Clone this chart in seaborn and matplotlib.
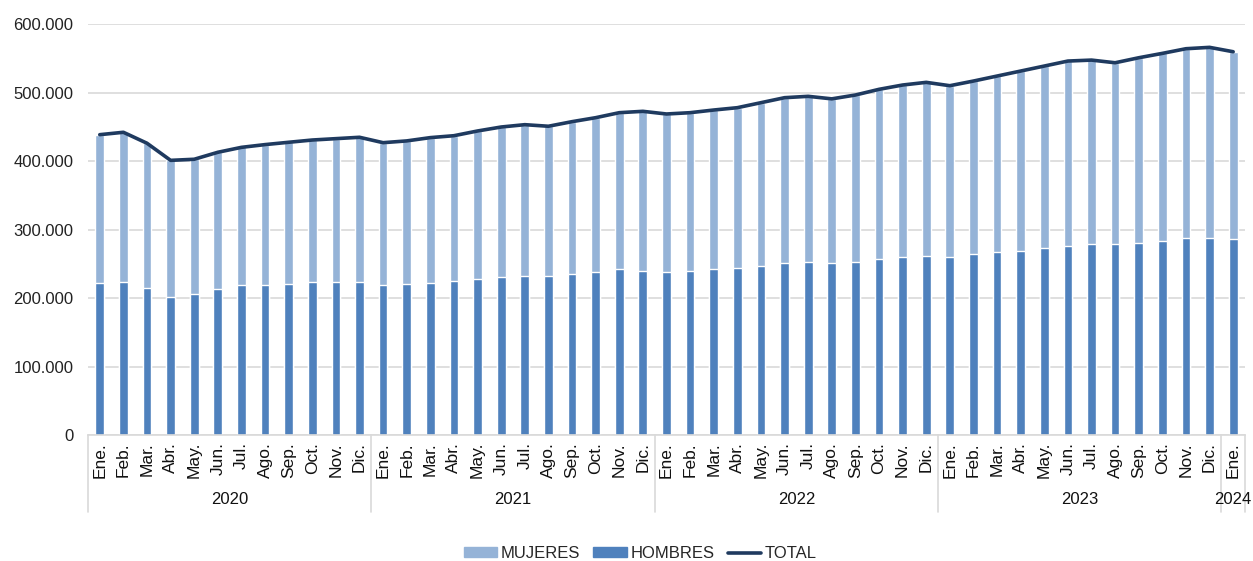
import matplotlib
matplotlib.use("Agg")
import matplotlib.pyplot as plt
from matplotlib.patches import Patch
from matplotlib.lines import Line2D
from matplotlib.ticker import FuncFormatter
import matplotlib.transforms as mtransforms
import numpy as np
import pandas as pd
import seaborn as sns

# data (Ene. 2020 - Ene. 2024)
meses = ["Ene.", "Feb.", "Mar.", "Abr.", "May.", "Jun.", "Jul.", "Ago.", "Sep.", "Oct.", "Nov.", "Dic."]
years = ["2020", "2021", "2022", "2023", "2024"]
month_labels = meses * 4 + ["Ene."]

hombres = [222200, 223600, 214900, 201800, 206200, 213400, 218300, 218300, 220700, 223600, 223600, 223600,
           218300, 220700, 222200, 225100, 228000, 230900, 232400, 232400, 234900, 238200, 242200, 239700,
           238200, 239700, 242200, 244100, 247000, 251400, 252800, 251400, 252800, 256700, 260100, 261600,
           260100, 264000, 267400, 268900, 273300, 276200, 278600, 278600, 280500, 283400, 287800, 287800,
           285900]
total = [438500, 442000, 426000, 401000, 402600, 412800, 420000, 424000, 427400, 430700, 432700, 434700,
         426800, 429400, 434200, 437000, 443900, 449700, 453100, 450800, 457500, 463300, 470600, 472600,
         468700, 470600, 474500, 477900, 485200, 492500, 494500, 490800, 496400, 504700, 511000, 514900,
         510000, 516800, 524100, 531400, 538700, 546000, 547400, 543500, 550800, 557200, 564000, 566000,
         559600]
mujeres = [t - h for t, h in zip(total, hombres)]

df = pd.DataFrame({"idx": np.arange(len(total)), "mes": month_labels,
                   "hombres": hombres, "mujeres": mujeres, "total": total})
df["stack"] = df["hombres"] + df["mujeres"]

c_muj = "#95B3D7"
c_hom = "#4F81BD"
c_tot = "#1F3A5F"

sns.set_style("white")
plt.rcParams["font.family"] = ["Liberation Sans", "DejaVu Sans"]

fig = plt.figure(figsize=(12.53, 5.61), dpi=100)
ax = fig.add_axes([0.0702, 0.2246, 0.9234, 0.7325])

# stacked bars: full height in light blue, hombres drawn over it
sns.barplot(data=df, x="idx", y="stack", color=c_muj, width=0.37, saturation=1, ax=ax)
sns.barplot(data=df, x="idx", y="hombres", color=c_hom, width=0.37, saturation=1, ax=ax)
ax.plot(df["idx"], df["total"], color=c_tot, lw=2.6, solid_joinstyle="round", solid_capstyle="round")

ax.set_ylim(0, 600000)
ax.set_xlim(-0.5, len(total) - 0.5)
ax.set_yticks(np.arange(0, 600001, 100000))
ax.yaxis.set_major_formatter(FuncFormatter(lambda v, p: f"{v:,.0f}".replace(",", ".")))
ax.tick_params(axis="y", labelsize=12, length=0, pad=10.5, colors="#222222")
ax.grid(axis="y", color="#D9D9D9", lw=1.2)
ax.set_axisbelow(True)
for s in ["top", "right", "left"]:
    ax.spines[s].set_visible(False)
ax.spines["bottom"].set_color("#D9D9D9")
ax.spines["bottom"].set_linewidth(1.2)

ax.set_xticks(df["idx"])
ax.set_xticklabels(month_labels, rotation=90, fontsize=12.5, color="#111111")
ax.tick_params(axis="x", length=0, pad=5)
ax.set_xlabel("")
ax.set_ylabel("")

# year groups below the month labels
trans = mtransforms.blended_transform_factory(ax.transData, ax.transAxes)
bounds = [-0.5, 11.5, 23.5, 35.5, 47.5, 48.5]
for b in bounds:
    ax.plot([b, b], [0, -0.187], color="#D9D9D9", lw=1.2, transform=trans, clip_on=False)
for i, y in enumerate(years):
    mid = (bounds[i] + bounds[i + 1]) / 2
    ax.text(mid, -0.157, y, transform=trans, ha="center", va="center", fontsize=12, color="#111111")

handles = [Patch(color=c_muj, label="MUJERES"), Patch(color=c_hom, label="HOMBRES"),
           Line2D([0], [0], color=c_tot, lw=2.6, label="TOTAL")]
fig.legend(handles=handles, loc="center", bbox_to_anchor=(0.511, 0.013), ncol=3, frameon=False,
           fontsize=12, handlelength=2.0, handleheight=0.55, columnspacing=0.78, handletextpad=0.24,
           borderpad=0)

fig.savefig("out.png", dpi=100)
